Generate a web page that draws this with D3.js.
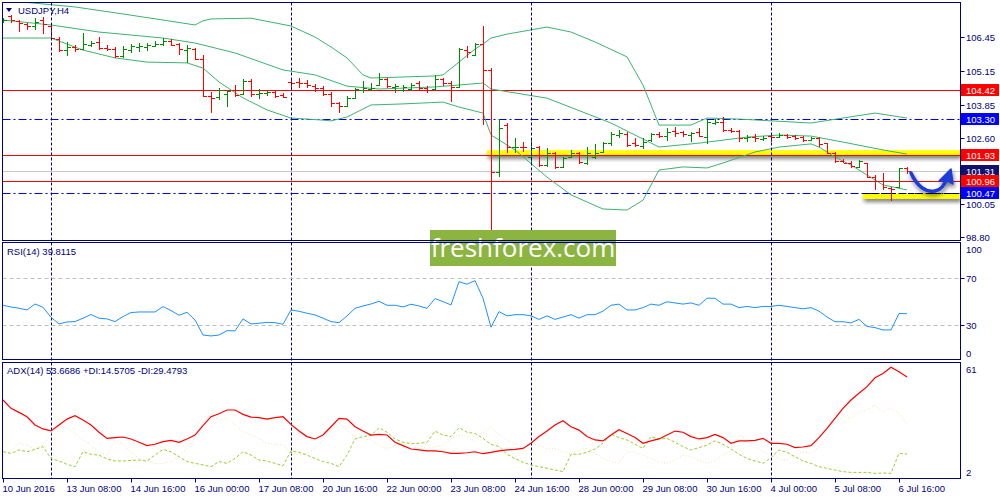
<!DOCTYPE html>
<html><head><meta charset="utf-8">
<script src="https://cdn.jsdelivr.net/npm/d3@7"></script>
<style>
body{margin:0;background:#fff}
svg{display:block}
text{font-family:"Liberation Sans",Arial,sans-serif}
</style>
</head><body>
<svg id="c" width="1000" height="500"></svg>
<script>
// ---------------- DATA ----------------
const symbol = "USDJPY,H4";
const opens = [107.01,107.25,107.06,106.95,106.87,107.10,106.87,106.37,105.95,106.05,105.98,106.14,106.27,106.04,105.99,105.74,105.95,106.05,106.05,106.12,106.17,106.31,106.17,105.95,105.98,105.60,104.19,104.14,104.27,104.42,104.27,104.78,104.27,104.30,104.36,104.23,104.73,104.73,104.70,104.58,104.49,104.27,103.94,103.81,104.10,104.42,104.45,104.60,104.83,104.55,104.42,104.45,104.70,104.49,104.45,104.83,104.70,104.55,105.95,105.76,106.18,105.19,101.30,103.08,102.23,102.25,101.87,102.23,101.55,102.00,101.49,101.87,102.00,101.64,101.87,102.06,102.38,102.70,102.74,102.38,102.28,102.51,102.74,102.66,102.87,102.83,102.70,102.83,102.64,103.17,103.21,102.89,102.87,102.57,102.64,102.53,102.66,102.64,102.70,102.66,102.61,102.51,102.57,102.38,102.00,101.72,101.64,101.49,101.62,101.11,100.95,100.66,100.70,101.43];
const highs = [107.16,107.29,107.10,106.97,107.16,107.20,106.91,106.44,106.25,106.14,106.59,106.30,106.44,106.14,106.08,106.12,106.18,106.21,106.21,106.31,106.40,106.36,106.21,106.14,106.04,105.76,104.36,104.49,104.42,104.61,104.83,104.83,104.45,104.40,104.38,104.30,104.80,104.87,104.80,104.65,104.59,104.36,103.98,104.19,104.49,104.77,104.70,105.09,104.87,104.65,104.61,104.70,104.77,104.58,104.99,104.87,104.78,106.02,106.11,106.21,106.87,105.25,103.30,103.17,102.57,102.45,102.51,102.28,102.19,102.06,101.87,102.13,102.06,102.23,102.36,102.45,102.83,102.89,102.83,102.57,102.57,102.79,102.83,102.96,103.02,102.87,102.83,102.96,103.28,103.30,103.38,102.96,102.89,102.70,102.74,102.66,102.74,102.79,102.74,102.70,102.66,102.61,102.61,102.41,102.06,101.77,101.72,101.74,101.64,101.17,101.23,100.72,101.43,101.46];
const lows = [106.97,106.97,106.65,106.72,106.72,106.57,106.36,105.89,105.74,105.86,105.95,106.05,105.95,105.93,105.63,105.66,105.85,105.89,105.93,106.08,106.11,106.11,105.76,105.44,105.57,104.17,103.53,104.04,103.76,104.17,104.25,104.14,104.07,104.19,104.10,104.10,104.49,104.49,104.49,104.36,104.19,103.76,103.56,103.79,104.10,104.32,104.40,104.58,104.49,104.32,104.36,104.40,104.42,104.32,104.42,104.58,103.98,104.49,105.63,105.72,103.08,98.95,101.11,102.00,102.00,102.06,101.55,101.46,101.49,101.39,101.46,101.81,101.59,101.55,101.77,102.02,102.28,102.57,102.25,102.23,102.15,102.45,102.57,102.48,102.64,102.64,102.45,102.64,102.36,103.08,102.83,102.77,102.45,102.45,102.45,102.47,102.45,102.57,102.53,102.51,102.45,102.48,102.25,101.97,101.64,101.62,101.43,101.46,101.04,100.60,100.60,100.19,100.66,101.21];
const closes = [107.10,107.10,107.00,106.87,107.04,106.95,106.40,105.95,106.08,105.98,106.17,106.21,106.02,105.99,105.74,105.98,106.11,106.11,106.14,106.20,106.31,106.16,105.98,106.02,105.60,104.19,104.13,104.42,104.40,104.23,104.78,104.27,104.30,104.36,104.19,104.14,104.70,104.68,104.60,104.49,104.27,103.94,103.81,104.10,104.45,104.49,104.49,104.83,104.58,104.58,104.55,104.61,104.49,104.42,104.83,104.68,104.55,105.98,105.89,106.18,105.19,101.30,102.96,102.23,102.25,102.23,102.19,101.55,102.00,101.49,101.81,102.02,101.68,102.02,102.00,102.41,102.74,102.77,102.32,102.32,102.45,102.74,102.66,102.83,102.79,102.74,102.79,102.66,103.21,103.21,102.89,102.87,102.57,102.64,102.57,102.60,102.61,102.70,102.64,102.57,102.51,102.57,102.36,102.00,101.72,101.64,101.51,101.72,101.08,100.95,100.72,100.62,101.43,101.31];

// Bollinger bands (bar index, price)
const bbUpperIdx = [0,3,9,15,20,24,25,26,31,36,39,41,43,45,46,54,55,57,59,60,61,63,68,71,74,78,80,81,82,86,88,92,101,105,109,113];
const bbUpper = [107.98,107.77,107.60,107.33,107.10,106.91,107.07,107.14,107.17,106.87,106.45,106.07,105.65,105.00,104.88,104.96,105.00,105.49,105.99,106.18,106.41,106.56,106.83,106.64,106.26,105.69,104.61,103.85,103.08,103.08,103.35,103.31,103.16,103.35,103.54,103.35];
const bbMidIdx = [0,6,12,20,24,29,35,39,43,47,54,60,61,68,76,82,87,93,97,101,105,110,113];
const bbMid = [107.10,106.91,106.64,106.41,106.22,105.84,105.19,105.00,104.57,104.46,104.54,104.69,104.46,104.11,103.16,102.24,102.39,102.62,102.70,102.66,102.43,102.13,101.97];
const bbLowerIdx = [0,6,10,14,18,23,25,27,30,33,36,40,41,43,46,50,55,57,60,61,64,68,71,75,78,80,82,85,88,90,94,97,101,102,104,106,108,110,113];
const bbLower = [106.41,106.41,105.95,105.65,105.49,105.46,105.26,104.73,104.12,103.66,103.35,103.27,103.24,103.39,103.85,103.89,103.96,103.77,103.54,102.70,102.13,101.09,100.41,99.87,99.83,100.21,101.36,101.48,101.44,101.63,102.05,102.24,102.36,102.24,101.86,101.55,101.17,100.79,100.60];

const rsi = [47.0,45.5,44.5,43.0,48.1,45.3,36.8,31.1,32.8,33.1,36.0,39.1,36.0,35.4,33.1,37.4,40.8,41.3,41.3,41.3,45.9,42.5,38.5,41.0,34.5,21.7,20.9,21.7,25.4,25.2,35.4,31.1,31.7,32.5,32.2,30.8,43.0,41.9,40.2,38.8,36.0,33.1,32.2,37.9,44.4,46.4,48.1,50.4,47.0,47.0,45.6,47.9,46.4,44.4,52.7,50.1,47.3,67.1,64.9,68.0,53.0,28.3,41.6,
  38,39,39,38,35,38,35,37,39,36,39,39,42,47,48,43,43,45,48,47,50,49,48,49,47,53,53,48,48,45,46,45,46,46,47,46,45,44,45,42,37,33,33,32,35,29,28,26,26,40,39.81];
const adx = [42.0,37.75,35.7,33.5,29.3,27.3,26.3,29.3,32.3,34.0,31.8,29.3,25.6,22.5,22.9,23.2,22.2,20.5,18.8,19.5,20.8,21.5,20.5,22.2,24.2,29.0,33.5,35.0,36.9,36.9,34.7,33.3,33.0,32.3,33.0,33.5,29.6,26.2,23.4,22.2,24.2,28.4,32.7,32.3,28.4,26.2,24.2,24.5,24.2,20.5,18.8,17.1,16.6,16.1,16.1,15.7,14.9,14.9,15.2,15.7,14.7,15.4,16.1,
  16.6,16.9,17.4,20.0,23.4,26.2,29.3,31.5,28.4,26.7,23.4,21.7,21.2,24.2,26.9,25.0,22.9,20.0,21.2,22.2,24.2,26.2,25.6,23.4,22.2,22.9,24.5,22.9,20.0,21.2,21.2,21.5,22.5,20.0,20.0,19.5,17.8,18.1,18.8,22.9,27.6,32.7,37.7,42.0,45.4,48.8,53.3,55.5,58.6,56.4,53.67];
const plusDI = [15.7,14.9,16.6,15.7,16.9,18.3,12.3,11.0,9.3,8.1,15.7,14.4,14.0,12.0,11.0,11.0,11.3,11.5,11.0,14.0,16.9,15.7,13.2,10.7,9.8,9.0,8.1,10.7,9.8,12.3,15.7,14.0,11.5,11.0,9.8,8.6,16.1,15.4,14.0,12.3,10.7,9.8,8.1,14.0,22.2,23.4,23.9,27.9,25.6,22.2,20.5,19.8,20.0,20.5,26.2,24.2,23.4,27.9,25.6,25.0,22.5,19.5,18.3,
  14.4,12.3,10.3,9.0,8.1,7.3,6.4,5.6,14.4,14.4,15.4,17.1,20.0,24.5,22.9,21.7,19.5,17.4,23.4,22.2,22.5,20.5,18.3,16.6,17.8,19.1,21.2,19.5,17.1,14.4,12.3,11.0,9.8,12.7,16.6,15.4,13.2,11.0,9.8,8.1,7.3,6.4,5.6,5.2,5.2,5.2,4.7,4.9,4.7,14.9,14.57];
const minusDI = [14.0,15.7,20.0,19.1,17.4,19.1,25.0,28.4,27.9,25.0,21.7,19.1,15.7,14.0,21.7,19.5,15.4,12.3,11.0,9.8,9.8,10.7,14.0,17.4,22.5,30.1,34.4,31.8,32.7,29.3,25.9,24.2,22.5,20.0,19.5,19.1,14.9,14.0,14.9,17.4,21.7,26.7,30.1,26.7,23.4,22.5,21.7,19.1,16.6,19.1,20.0,20.5,18.8,17.1,18.3,18.8,22.5,24.2,23.4,20.8,25.0,28.4,24.2,
  21.7,20.0,17.4,20.5,18.8,17.4,17.4,15.7,14.4,16.6,17.4,14.9,12.3,10.7,9.8,15.7,15.4,14.0,12.3,10.7,9.8,11.5,14.0,13.2,11.5,9.8,11.0,14.0,16.1,24.2,22.2,18.3,15.7,14.0,12.0,11.5,14.0,15.7,14.9,18.3,23.4,31.0,33.5,32.7,36.0,36.9,39.4,35.7,38.1,35.2,29.48];

const timeLabels = ["10 Jun 2016","13 Jun 08:00","14 Jun 16:00","16 Jun 00:00","17 Jun 08:00","20 Jun 16:00","22 Jun 00:00","23 Jun 08:00","24 Jun 16:00","28 Jun 00:00","29 Jun 08:00","30 Jun 16:00","4 Jul 00:00","5 Jul 08:00","6 Jul 16:00"];
const timeLabelIdx = [0,8,16,24,32,40,48,56,64,72,80,88,96,104,112];
const weekStartIdx = [6,36,66,96];
const priceTicks = ["106.45","105.15","103.85","102.60","101.31","100.05","98.80"];
const redLevels = [104.42,101.93,100.96];
const blueLevels = [103.30,100.47];
const bidPrice = 101.31;
const rsiLevels = [70,30];
const rsiTicks = [100,70,30,0];
const adxTicks = [61,2];
const rsiText = "RSI(14) 39.8115";
const adxText = "ADX(14) 53.6686 +DI:14.5705 -DI:29.4793";
const watermark = "freshforex.com";

// ---------------- LAYOUT ----------------
const svg = d3.select("#c");
const NAVY = "#000080";
const L = 2.5, R = 960.5;
const main = {t:2.5, b:240.5}, rsiP = {t:242.5, b:359.5}, adxP = {t:362.5, b:478.5};

const x = d3.scaleLinear().domain([0,113]).range([3,907]);
const y = d3.scaleLinear().domain([98.684,107.789]).range([240,2]);
const yr = d3.scaleLinear().domain([0,100]).range([360.5,243]);
const ya = d3.scaleLinear().domain([2,61]).range([478.7,362.6]);

const defs = svg.append("defs");
[["cm",main],["cr",rsiP],["ca",adxP]].forEach(([id,p])=>{
  defs.append("clipPath").attr("id",id).append("rect").attr("x",L).attr("y",p.t).attr("width",R-L).attr("height",p.b-p.t);
});
const f = defs.append("filter").attr("id","sh").attr("x","-20%").attr("y","-50%").attr("width","140%").attr("height","250%");
f.append("feGaussianBlur").attr("in","SourceAlpha").attr("stdDeviation",2);
f.append("feOffset").attr("dx",1).attr("dy",3).attr("result","o");
f.append("feComponentTransfer").append("feFuncA").attr("type","linear").attr("slope",0.55);
const fm = f.append("feMerge"); fm.append("feMergeNode"); fm.append("feMergeNode").attr("in","SourceGraphic");

// ---------------- MAIN PANEL ----------------
const gm = svg.append("g").attr("clip-path","url(#cm)");
gm.append("rect").attr("x",487).attr("y",y(101.93)-5).attr("width",R-487).attr("height",5.5).attr("fill","#ffff00").attr("filter","url(#sh)");
gm.append("rect").attr("x",863).attr("y",y(100.47)).attr("width",R-863).attr("height",5.5).attr("fill","#ffff00").attr("filter","url(#sh)");

weekStartIdx.forEach(i=>{
  svg.append("line").attr("x1",Math.round(x(i))+0.5).attr("x2",Math.round(x(i))+0.5).attr("y1",main.t).attr("y2",adxP.b)
    .attr("stroke",NAVY).attr("stroke-dasharray","3,2").attr("stroke-width",1);
});

gm.append("line").attr("x1",L).attr("x2",R).attr("y1",Math.round(y(bidPrice))+0.5).attr("y2",Math.round(y(bidPrice))+0.5).attr("stroke","#c8c8c8");
redLevels.forEach(v=>gm.append("line").attr("x1",L).attr("x2",R).attr("y1",Math.round(y(v))+0.5).attr("y2",Math.round(y(v))+0.5).attr("stroke","#ff0000").attr("stroke-width",1));
blueLevels.forEach(v=>gm.append("line").attr("x1",L).attr("x2",R).attr("y1",Math.round(y(v))+0.5).attr("y2",Math.round(y(v))+0.5).attr("stroke","#0000dd").attr("stroke-width",1.2).attr("stroke-dasharray","8,3,2,3"));
gm.append("line").attr("x1",863).attr("x2",R).attr("y1",Math.round(y(100.47))+0.5).attr("y2",Math.round(y(100.47))+0.5).attr("stroke","#000").attr("stroke-width",1.2).attr("stroke-dasharray","6,3");

const bbLine = d3.line().x(d=>x(d[0])).y(d=>y(d[1]));
[[bbUpperIdx,bbUpper],[bbMidIdx,bbMid],[bbLowerIdx,bbLower]].forEach(([ix,vs])=>{
  gm.append("path").attr("d",bbLine(ix.map((v,k)=>[v,vs[k]]))).attr("fill","none").attr("stroke","#3cb371").attr("stroke-width",1);
});

const bars = gm.append("g").attr("shape-rendering","crispEdges");
opens.forEach((o,i)=>{
  const c = closes[i], col = c>=o ? "#008c00" : "#ff0000";
  const xi = Math.round(x(i))+0.5;
  bars.append("line").attr("x1",xi).attr("x2",xi).attr("y1",y(highs[i])).attr("y2",y(lows[i])).attr("stroke",col).attr("stroke-width",1.4);
  bars.append("line").attr("x1",xi-3.5).attr("x2",xi).attr("y1",Math.round(y(o))+0.5).attr("y2",Math.round(y(o))+0.5).attr("stroke",col);
  bars.append("line").attr("x1",xi).attr("x2",xi+3.5).attr("y1",Math.round(y(c))+0.5).attr("y2",Math.round(y(c))+0.5).attr("stroke",col);
});

const ga = svg.append("g").attr("filter","url(#sh)");
ga.append("path").attr("d","M911,173 C917,186 926,193 935,191 C941,190 945,184 947,178")
  .attr("fill","none").attr("stroke","#1b3bd8").attr("stroke-width",3.5).attr("stroke-linecap","round");
ga.append("path").attr("d","M951,169 L939,181 L946,180 L953,184 Z").attr("fill","#1b3bd8").attr("stroke","#1b3bd8").attr("stroke-width",1.5).attr("stroke-linejoin","round");

// ---------------- RSI PANEL ----------------
const gr = svg.append("g").attr("clip-path","url(#cr)");
rsiLevels.forEach(v=>gr.append("line").attr("x1",L).attr("x2",R).attr("y1",Math.round(yr(v))+0.5).attr("y2",Math.round(yr(v))+0.5).attr("stroke","#c0c0c0").attr("stroke-dasharray","4,3"));
gr.append("path").attr("d",d3.line().x((d,i)=>x(i)).y(d=>yr(d))(rsi)).attr("fill","none").attr("stroke","#1e90ff").attr("stroke-width",1);

// ---------------- ADX PANEL ----------------
const gd = svg.append("g").attr("clip-path","url(#ca)");
gd.append("path").attr("d",d3.line().x((d,i)=>x(i)).y(d=>ya(d))(minusDI)).attr("fill","none").attr("stroke","#f5deb3").attr("stroke-width",1).attr("stroke-dasharray","1,2");
gd.append("path").attr("d",d3.line().x((d,i)=>x(i)).y(d=>ya(d))(plusDI)).attr("fill","none").attr("stroke","#9acd32").attr("stroke-width",1).attr("stroke-dasharray","3,2");
gd.append("path").attr("d",d3.line().x((d,i)=>x(i)).y(d=>ya(d))(adx)).attr("fill","none").attr("stroke","#ff0000").attr("stroke-width",1.2);

// watermark
svg.append("rect").attr("x",430).attr("y",230).attr("width",186).attr("height",36).attr("fill","#8cb440");
svg.append("text").attr("x",523).attr("y",257).attr("text-anchor","middle").attr("fill","#fff")
  .style("font-family","'Open Sans',sans-serif").style("font-size","26px").text(watermark);

// ---------------- FRAMES ----------------
[main,rsiP,adxP].forEach(p=>svg.append("rect").attr("x",L).attr("y",p.t).attr("width",R-L).attr("height",p.b-p.t).attr("fill","none").attr("stroke",NAVY).attr("stroke-width",1));

// ---------------- AXES ----------------
const FS = "9.5px";
const tx = svg.append("g").attr("fill",NAVY).style("font-size",FS);
priceTicks.forEach(t=>{
  const yy = Math.round(y(+t))+0.5;
  svg.append("line").attr("x1",R).attr("x2",R+4).attr("y1",yy).attr("y2",yy).attr("stroke",NAVY);
  tx.append("text").attr("x",966).attr("y",yy+3.5).text(t);
});
rsiTicks.forEach(v=>{
  const yy = v===100 ? 249 : v===0 ? 353 : Math.round(yr(v))+0.5;
  if(v===70||v===30) svg.append("line").attr("x1",R).attr("x2",R+4).attr("y1",yy).attr("y2",yy).attr("stroke",NAVY);
  tx.append("text").attr("x",966).attr("y",yy+3.5).text(v);
});
adxTicks.forEach(v=>{
  const yy = v===61 ? 369 : 472;
  tx.append("text").attr("x",966).attr("y",yy+3.5).text(v);
});
function priceLabel(v,bg){
  const yy = Math.round(y(v));
  svg.append("rect").attr("x",961).attr("y",yy-6).attr("width",38).attr("height",12).attr("fill",bg);
  svg.append("text").attr("x",966).attr("y",yy+3.5).attr("fill","#fff").style("font-size",FS).text(v.toFixed(2));
}
priceLabel(bidPrice,"#10106e");
redLevels.forEach(v=>priceLabel(v,"#ff0000"));
blueLevels.forEach(v=>priceLabel(v,"#0000ff"));

timeLabelIdx.forEach((ix,k)=>{
  const xx = Math.round(x(ix))+0.5;
  svg.append("line").attr("x1",xx).attr("x2",xx).attr("y1",adxP.b).attr("y2",adxP.b+4).attr("stroke",NAVY);
  tx.append("text").attr("x",xx-1).attr("y",492).text(timeLabels[k]);
});

svg.append("path").attr("d","M6,8 L12,8 L9,12 Z").attr("fill",NAVY);
tx.append("text").attr("x",18).attr("y",14).text(symbol);
tx.append("text").attr("x",7).attr("y",255).text(rsiText);
tx.append("text").attr("x",7).attr("y",374).text(adxText);
</script>
</body></html>
